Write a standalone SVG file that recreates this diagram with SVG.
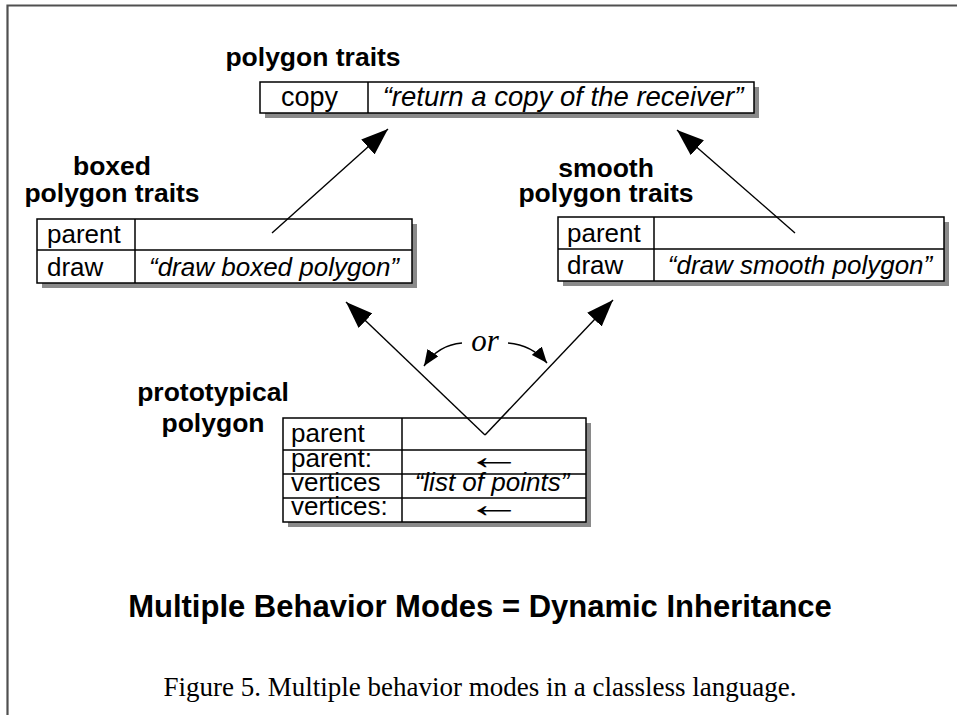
<svg xmlns="http://www.w3.org/2000/svg" width="957" height="715" viewBox="0 0 957 715">
<style>
.frame{stroke:#505050;stroke-width:2.2;fill:none}
.box{fill:#fff;stroke:#000;stroke-width:1.5}
.shadow{fill:#8a8a8a}
.div{stroke:#000;stroke-width:1.5}
.title{font-family:"Liberation Sans",Arial,sans-serif;font-weight:bold;font-size:26.5px;fill:#000;text-anchor:middle}
.slot{font-family:"Liberation Sans",Arial,sans-serif;font-size:26px;fill:#000}
.val{font-family:"Liberation Sans",Arial,sans-serif;font-size:26px;font-style:italic;fill:#000;text-anchor:middle}
.arr{font-family:"Liberation Sans",Arial,sans-serif;font-size:38px;fill:#000;text-anchor:middle}
.conn{stroke:#000;stroke-width:1.4;fill:none}
.heading{font-family:"Liberation Sans",Arial,sans-serif;font-weight:bold;font-size:31px;fill:#000;text-anchor:middle}
.caption{font-family:"Liberation Serif","Times New Roman",serif;font-size:27px;fill:#000;text-anchor:middle}
.or{font-family:"Liberation Serif","Times New Roman",serif;font-style:italic;font-size:31px;fill:#000;text-anchor:middle}
</style>
<defs>
<marker id="big" markerUnits="userSpaceOnUse" markerWidth="28" markerHeight="20" refX="27" refY="10" orient="auto" viewBox="0 0 28 20">
<path d="M0,0 L27,10 L0,20 Z" fill="#000"/>
</marker>
<marker id="small" markerUnits="userSpaceOnUse" markerWidth="17" markerHeight="13" refX="16" refY="6.5" orient="auto" viewBox="0 0 17 13">
<path d="M0,0 L16,6.5 L0,13 Z" fill="#000"/>
</marker>
</defs>
<rect width="957" height="715" fill="#fff"/>
<path class="frame" d="M7.5,715 L7.5,5.5 L957,5.5"/>

<g id="polygon-traits">
<text class="title" x="313" y="66">polygon traits</text>
<rect class="shadow" x="265" y="87" width="494" height="31"/>
<rect class="box" x="260" y="82" width="494" height="31"/>
<line class="div" x1="368" y1="82" x2="368" y2="113"/>
<text class="slot" x="281" y="106" style="font-size:27px">copy</text>
<text class="val" x="563" y="106" style="font-size:27.5px">“return a copy of the receiver”</text>
</g>

<g id="boxed-polygon-traits">
<text class="title" x="112" y="175">boxed</text>
<text class="title" x="112" y="202">polygon traits</text>
<rect class="shadow" x="42" y="224" width="375" height="64"/>
<rect class="box" x="37" y="219" width="375" height="64"/>
<line class="div" x1="37" y1="250" x2="412" y2="250"/>
<line class="div" x1="135" y1="219" x2="135" y2="283"/>
<text class="slot" x="47" y="243">parent</text>
<text class="slot" x="47" y="276">draw</text>
<text class="val" x="274" y="276">“draw boxed polygon”</text>
</g>

<g id="smooth-polygon-traits">
<text class="title" x="606" y="177">smooth</text>
<text class="title" x="606" y="202">polygon traits</text>
<rect class="shadow" x="563" y="222" width="386" height="64"/>
<rect class="box" x="558" y="217" width="386" height="64"/>
<line class="div" x1="558" y1="249" x2="944" y2="249"/>
<line class="div" x1="654" y1="217" x2="654" y2="281"/>
<text class="slot" x="567" y="242">parent</text>
<text class="slot" x="567" y="274">draw</text>
<text class="val" x="800" y="274">“draw smooth polygon”</text>
</g>

<g id="prototypical-polygon">
<text class="title" x="213" y="401">prototypical</text>
<text class="title" x="213" y="432">polygon</text>
<rect class="shadow" x="288" y="423" width="303" height="104"/>
<rect class="box" x="283" y="418" width="303" height="104"/>
<line class="div" x1="283" y1="450" x2="586" y2="450"/>
<line class="div" x1="283" y1="474" x2="586" y2="474"/>
<line class="div" x1="283" y1="498" x2="586" y2="498"/>
<line class="div" x1="402" y1="418" x2="402" y2="522"/>
<text class="slot" x="291" y="442">parent</text>
<text class="slot" x="291" y="467">parent:</text>
<text class="slot" x="291" y="491">vertices</text>
<text class="slot" x="291" y="515">vertices:</text>
<text class="arr" transform="translate(494,469) scale(1.5,1)">←</text>
<text class="val" x="492" y="491">“list of points”</text>
<text class="arr" transform="translate(494,517) scale(1.5,1)">←</text>
</g>

<g id="connectors">
<line class="conn" x1="272" y1="233" x2="388" y2="129" marker-end="url(#big)"/>
<line class="conn" x1="795" y1="233" x2="677" y2="130" marker-end="url(#big)"/>
<line class="conn" x1="485" y1="435" x2="346" y2="302" marker-end="url(#big)"/>
<line class="conn" x1="485" y1="435" x2="613" y2="300" marker-end="url(#big)"/>
<path class="conn" d="M462,343 Q438,345 424,366" marker-end="url(#small)"/>
<path class="conn" d="M508,343 Q532,345 547,363" marker-end="url(#small)"/>
<text class="or" x="485" y="351">or</text>
</g>

<text class="heading" x="480" y="617">Multiple Behavior Modes = Dynamic Inheritance</text>
<text class="caption" x="480" y="696">Figure 5. Multiple behavior modes in a classless language.</text>
</svg>
